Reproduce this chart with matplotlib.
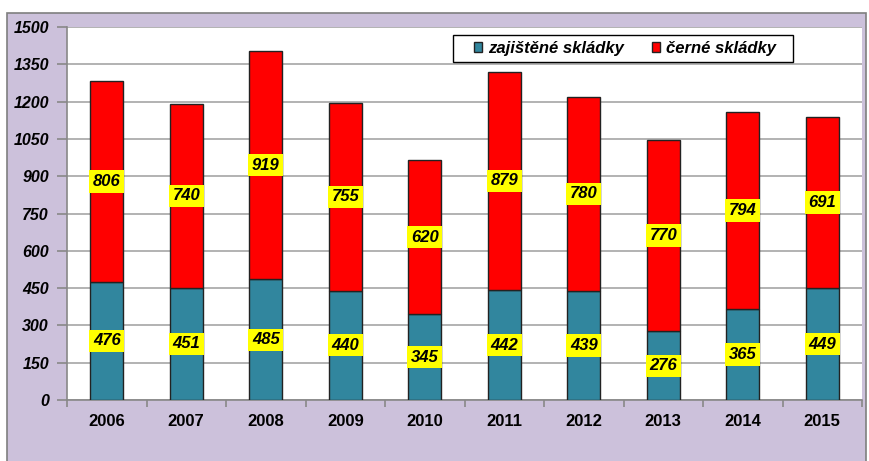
import numpy as np
import matplotlib.pyplot as plt
from matplotlib.patches import Rectangle

# data
years = ["2006", "2007", "2008", "2009", "2010", "2011", "2012", "2013", "2014", "2015"]
zajistene = [476, 451, 485, 440, 345, 442, 439, 276, 365, 449]
cerne = [806, 740, 919, 755, 620, 879, 780, 770, 794, 691]

plt.rcParams['font.family'] = ['Liberation Sans', 'DejaVu Sans']

W, H = 869, 461
fig = plt.figure(figsize=(W / 100, H / 100), dpi=100)

# lavender outer frame
fig.patches.append(Rectangle((7 / W, -0.01), (866 - 7) / W, (H - 13) / H + 0.01,
                             transform=fig.transFigure, facecolor="#CCC1DB",
                             edgecolor="#7F7F7F", linewidth=1.2, zorder=-5))

ax = fig.add_axes([67 / W, (H - 400) / H, 795 / W, 373 / H])
ax.set_facecolor("white")

x = np.arange(len(years))
teal = "#31869E"
red = "#FF0000"
bw = 0.42
b1 = ax.bar(x, zajistene, bw, color=teal, edgecolor="#222222", linewidth=1, zorder=3,
            label="zajištěné skládky")
b2 = ax.bar(x, cerne, bw, bottom=zajistene, color=red, edgecolor="#222222", linewidth=1,
            zorder=3, label="černé skládky")

lab_kw = dict(ha="center", va="center", fontsize=12, fontweight="bold", fontstyle="italic",
              zorder=5, bbox=dict(boxstyle="square,pad=0.22", facecolor="#FFFF00", edgecolor="none"))
for i in range(len(years)):
    ax.text(x[i], zajistene[i] / 2, str(zajistene[i]), **lab_kw)
    ax.text(x[i], zajistene[i] + cerne[i] / 2, str(cerne[i]), **lab_kw)

ax.set_xlim(-0.5, len(years) - 0.5)
ax.set_ylim(0, 1500)
ax.set_yticks(np.arange(0, 1501, 150))
ax.yaxis.grid(True, color="#A6A6A6", linewidth=1.2, zorder=0)
ax.set_axisbelow(True)

ax.set_xticks(x)
ax.set_xticklabels(years, fontsize=12, fontweight="bold")
ax.set_xticks(np.arange(-0.5, len(years), 1), minor=True)
ax.tick_params(axis="x", which="major", length=0, pad=10)
ax.tick_params(axis="x", which="minor", length=5, color="#888888", width=1.2)
ax.tick_params(axis="y", length=7, color="#888888", width=1.2, pad=6)
for t in ax.get_yticklabels():
    t.set_fontsize(11.5)
    t.set_fontweight("bold")
    t.set_fontstyle("italic")

for s in ["top", "right"]:
    ax.spines[s].set_visible(False)
for s in ["left", "bottom"]:
    ax.spines[s].set_color("#888888")
    ax.spines[s].set_linewidth(1.2)

# legend box drawn separately so the padding can match
lx0, lx1, ly0, ly1 = 453, 793, 35, 62
ax_w, ax_h = 795, 373
ax.add_patch(Rectangle(((lx0 - 67) / ax_w, (400 - ly1) / ax_h), (lx1 - lx0) / ax_w,
                       (ly1 - ly0) / ax_h, transform=ax.transAxes, facecolor="white",
                       edgecolor="black", linewidth=1.0, zorder=6, clip_on=False))
leg = ax.legend(loc="center",
                bbox_to_anchor=(((lx0 + lx1) / 2 + 2 - 67) / ax_w, (400 - (ly0 + ly1) / 2) / ax_h),
                ncol=2, frameon=False,
                prop=dict(family="Liberation Sans", weight="bold", style="italic", size=12),
                handlelength=0.5, handleheight=0.5, handletextpad=0.35, columnspacing=1.7,
                borderpad=0.0, borderaxespad=0)
leg.set_zorder(7)

fig.savefig("out.png", dpi=100)
